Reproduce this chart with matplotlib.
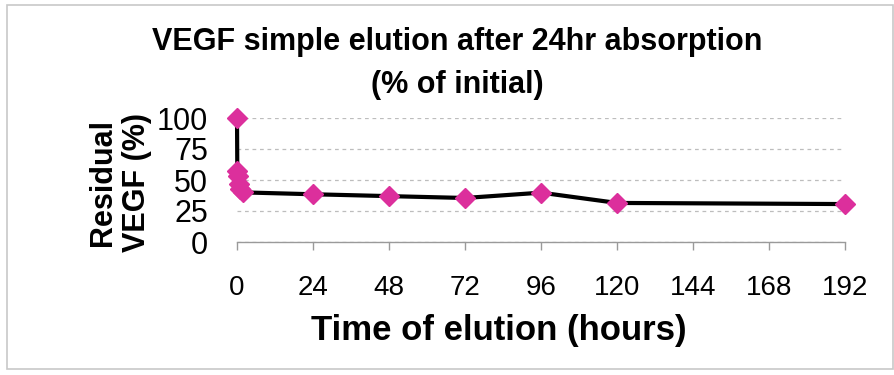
import matplotlib
matplotlib.use("Agg")
import matplotlib.pyplot as plt
from matplotlib.patches import Rectangle

plt.rcParams['font.family'] = ['Liberation Sans', 'DejaVu Sans']

# Elution time points (hours) and residual VEGF (% of initial)
hours = [0, 0.1, 0.25, 0.5, 1, 2, 24, 48, 72, 96, 120, 192]
residual = [100, 57, 53, 47, 43, 40, 38.5, 37, 35.5, 39.8, 31.5, 30.6]

x_ticks = [0, 24, 48, 72, 96, 120, 144, 168, 192]
y_ticks = [0, 25, 50, 75, 100]

fig = plt.figure(figsize=(8.95, 3.75), dpi=100)
fig.patch.set_facecolor('white')

# outer chart frame
fig.patches.append(Rectangle((7 / 895, 1 - 369 / 375), 886 / 895, 364 / 375,
                             transform=fig.transFigure, fill=False,
                             edgecolor='#c8c8c8', linewidth=1.2))

ax = fig.add_axes([237 / 895, 1 - 242 / 375, 608 / 895, 124 / 375])
ax.set_xlim(0, 192)
ax.set_ylim(0, 100)

ax.plot(hours, residual, color='black', linewidth=3.0, zorder=3, clip_on=False)
ax.plot(hours, residual, linestyle='none', marker='D', markersize=10.3,
        markerfacecolor='#DC2F9C', markeredgecolor='#DC2F9C', zorder=4,
        clip_on=False)

ax.set_xticks(x_ticks)
ax.set_xticklabels([str(t) for t in x_ticks], fontsize=20)
ax.set_yticks(y_ticks)
ax.set_yticklabels([str(t) for t in y_ticks], fontsize=22)

for spine in ['top', 'right', 'left']:
    ax.spines[spine].set_visible(False)
ax.spines['bottom'].set_color('#9a9a9a')
ax.spines['bottom'].set_linewidth(1.0)

ax.tick_params(axis='x', direction='out', length=6, width=1.0,
               color='#9a9a9a', pad=18)
ax.tick_params(axis='y', length=0, pad=21)

ax.grid(axis='y', color='#bdbdbd', linestyle=(0, (3, 3)), linewidth=0.9)
ax.grid(axis='x', visible=False)
ax.set_axisbelow(True)

fig.text(457 / 895, 1 - 50 / 375, 'VEGF simple elution after 24hr absorption',
         fontsize=22, fontweight='bold', ha='center', va='baseline')
fig.text(457 / 895, 1 - 93 / 375, '(% of initial)',
         fontsize=22, fontweight='bold', ha='center', va='baseline')

fig.text(499 / 895, 1 - 340 / 375, 'Time of elution (hours)',
         fontsize=25, fontweight='bold', ha='center', va='baseline')

fig.text(120 / 895, 1 - 182 / 375, 'Residual\nVEGF (%)', fontsize=22,
         fontweight='bold', rotation=90, ha='center', va='center',
         multialignment='center', linespacing=1.2)

fig.savefig('out.png', dpi=100, facecolor='white')
